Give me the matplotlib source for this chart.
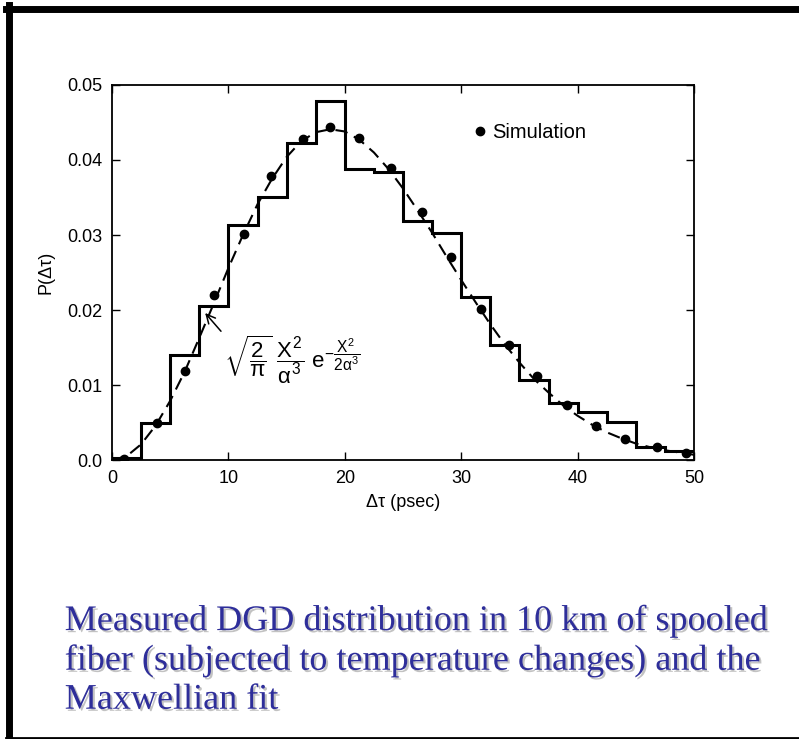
import matplotlib
matplotlib.use("Agg")
import matplotlib.pyplot as plt
import matplotlib.patheffects as pe
from matplotlib.lines import Line2D

# measured DGD histogram (bin edges in psec, probability per bin)
bin_edges = [0, 2.5, 5, 7.5, 10, 12.5, 15, 17.5, 20, 22.5, 25,
             27.5, 30, 32.5, 35, 37.5, 40, 42.5, 45, 47.5, 50]
hist_vals = [0.0003, 0.0049, 0.0140, 0.0205, 0.0314, 0.0351, 0.0422, 0.0478,
             0.0388, 0.0384, 0.0319, 0.0303, 0.0217, 0.0154, 0.0107, 0.0076,
             0.0064, 0.0051, 0.0018, 0.0012]

# simulation points
sim_x = [1.0, 3.9, 6.3, 8.8, 11.3, 13.7, 16.4, 18.7, 21.2, 24.0,
         26.6, 29.1, 31.7, 34.1, 36.5, 39.1, 41.6, 44.1, 46.8, 49.3]
sim_y = [0.0002, 0.0049, 0.0119, 0.0220, 0.0301, 0.0379, 0.0428, 0.0444, 0.0429, 0.0389,
         0.0331, 0.0271, 0.0202, 0.0153, 0.0112, 0.0073, 0.0046, 0.0028, 0.0017, 0.0010]

# dashed Maxwellian fit
fit_x = [0, 1.25, 2.5, 3.75, 5, 6.25, 7.5, 8.75, 10, 11.25, 12.5, 13.75, 15, 16.25, 17.5,
         18.75, 20, 21.25, 22.5, 23.75, 25, 26.25, 27.5, 28.75, 30, 31.25, 32.5, 33.75,
         35, 36.25, 37.5, 38.75, 40, 41.25, 42.5, 43.75, 45, 46.25, 47.5, 48.75, 50]
fit_y = [0.0, 0.0005, 0.0021, 0.0046, 0.0079, 0.0118, 0.0163, 0.0209, 0.0256, 0.0300,
         0.0341, 0.0375, 0.0404, 0.0425, 0.0437, 0.0441, 0.0438, 0.0427, 0.0410, 0.0388,
         0.0362, 0.0333, 0.0303, 0.0271, 0.0240, 0.0210, 0.0181, 0.0154, 0.0130, 0.0108,
         0.0090, 0.0073, 0.0059, 0.0047, 0.0037, 0.0029, 0.0022, 0.0017, 0.0013, 0.0010,
         0.0007]

x_ticks = [0, 10, 20, 30, 40, 50]
y_ticks = [0.0, 0.01, 0.02, 0.03, 0.04, 0.05]
y_tick_labels = ["0.0", "0.01", "0.02", "0.03", "0.04", "0.05"]

caption = ("Measured DGD distribution in 10 km of spooled\n"
           "fiber (subjected to temperature changes) and the\n"
           "Maxwellian fit")

plt.rcParams['font.family'] = ['Liberation Sans', 'DejaVu Sans']
plt.rcParams['mathtext.fontset'] = 'custom'
plt.rcParams['mathtext.rm'] = 'Liberation Sans'
plt.rcParams['mathtext.it'] = 'Liberation Sans'
plt.rcParams['mathtext.bf'] = 'Liberation Sans:bold'

fig = plt.figure(figsize=(7.99, 7.39), dpi=100)
ax = fig.add_axes([0.1402, 0.3775, 0.7284, 0.5075])

ax.stairs(hist_vals, bin_edges, color='black', linewidth=2.2, baseline=None)
ax.plot(fit_x, fit_y, color='black', linewidth=1.5, linestyle=(0, (6, 3.5)))
ax.plot(sim_x, sim_y, 'o', color='black', markersize=6, zorder=5)

ax.set_xlim(0, 50)
ax.set_ylim(0, 0.05)
ax.set_xticks(x_ticks)
ax.set_yticks(y_ticks)
ax.set_yticklabels(y_tick_labels)
ax.tick_params(direction='in', length=6, width=1, top=True, right=True,
               labelsize=13, pad=7)
for s in ax.spines.values():
    s.set_linewidth(1.3)

ax.set_xlabel('Δτ (psec)', fontsize=13, labelpad=5)
ax.set_ylabel('P(Δτ)', fontsize=13, labelpad=9)

ax.annotate(r'$\sqrt{\dfrac{2}{\pi}}\ \dfrac{X^2}{\alpha^3}\ e^{-\dfrac{X^2}{2\alpha^3}}$',
            xy=(8.0, 0.0196), xytext=(9.6, 0.0134), fontsize=16, va='center',
            arrowprops=dict(arrowstyle='->', color='black', lw=1.1,
                            shrinkA=0, shrinkB=0, relpos=(0.06, 0.8)))

handle = Line2D([], [], marker='o', color='black', linestyle='none', markersize=6)
ax.legend([handle], ['Simulation'], loc='upper left', bbox_to_anchor=(0.593, 0.947),
          frameon=False, handlelength=0.5, handletextpad=0.35, fontsize=14.5)

fig.text(0.081, 0.106, caption, fontsize=26, family='Liberation Serif',
         color='#2e2e9a', va='center', ha='left', linespacing=1.24,
         path_effects=[pe.withSimplePatchShadow(offset=(1.5, -1.5),
                                                shadow_rgbFace='#9a9a9a', alpha=0.6)])

# slide frame: left, top and bottom black borders
fig.add_artist(Line2D([0.0113, 0.0113], [0, 0.993], color='black', linewidth=5,
                      transform=fig.transFigure))
fig.add_artist(Line2D([0.0075, 1.0], [0.988, 0.988], color='black', linewidth=5,
                      transform=fig.transFigure))
fig.add_artist(Line2D([0.0075, 1.0], [0.0015, 0.0015], color='black', linewidth=2,
                      transform=fig.transFigure))

fig.savefig('out.png', dpi=100)
